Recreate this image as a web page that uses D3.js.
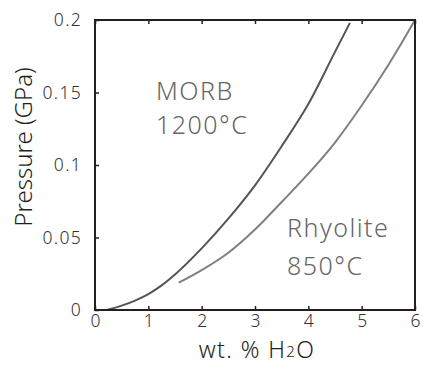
<!DOCTYPE html>
<html><head><meta charset="utf-8">
<script src="https://cdn.jsdelivr.net/npm/d3@7"></script>
<style>
html,body{margin:0;padding:0;background:#fff;}
svg{display:block;font-family:"Noto Sans",sans-serif;}
</style></head>
<body>
<svg id="c" width="423" height="365"></svg>
<script>
// Data
const morbX = [0.22, 0.5, 0.75, 1.0, 1.25, 1.5, 2.0, 2.5, 3.0, 3.5, 4.0, 4.5, 4.78];
const morbP = [0, 0.003, 0.0065, 0.011, 0.017, 0.0245, 0.0425, 0.063, 0.086, 0.113, 0.142, 0.178, 0.198];
const rhyX = [1.57, 2.0, 2.5, 3.0, 3.5, 4.0, 4.5, 5.0, 5.5, 6.0];
const rhyP = [0.0188, 0.0275, 0.0395, 0.0555, 0.0745, 0.094, 0.1155, 0.141, 0.169, 0.2];
const xTicks = [0, 1, 2, 3, 4, 5, 6];
const yTicks = [0, 0.05, 0.1, 0.15, 0.2];
const yTickLabels = ["0", "0.05", "0.1", "0.15", "0.2"];

const svg = d3.select("#c");
const L = 95, R = 415, T = 20, B = 310;
const x = d3.scaleLinear().domain([0, 6]).range([L, R]);
const y = d3.scaleLinear().domain([0, 0.2]).range([B, T]);
const frameCol = "#231f20";
const FONT = "'Noto Sans', 'Open Sans', sans-serif";

// lines
const line = d3.line().x(d => x(d[0])).y(d => y(d[1])).curve(d3.curveMonotoneX);
svg.append("path").datum(morbX.map((v, i) => [v, morbP[i]]))
  .attr("d", line).attr("fill", "none").attr("stroke", "#555555").attr("stroke-width", 2);
svg.append("path").datum(rhyX.map((v, i) => [v, rhyP[i]]))
  .attr("d", line).attr("fill", "none").attr("stroke", "#808080").attr("stroke-width", 2);

// axes
const xAxis = d3.axisBottom(x).tickValues(xTicks).tickSize(-4).tickPadding(6).tickFormat(d3.format("d"));
const gx = svg.append("g").attr("transform", `translate(0,${B})`).call(xAxis);
const yAxis = d3.axisLeft(y).tickValues(yTicks).tickSize(-4).tickPadding(13).tickFormat((d, i) => yTickLabels[i]);
const gy = svg.append("g").attr("transform", `translate(${L},0)`).call(yAxis);
const xTop = d3.axisTop(x).tickValues(xTicks).tickSize(-4).tickFormat("");
const gt = svg.append("g").attr("transform", `translate(0,${T})`).call(xTop);
[gx, gy, gt].forEach(g => {
  g.select(".domain").remove();
  g.selectAll(".tick line").attr("stroke", frameCol).attr("stroke-width", 1.5);
  g.selectAll(".tick text").attr("fill", "#333").attr("font-size", 17.5).attr("font-weight", 300)
    .attr("font-family", FONT);
});
gy.selectAll(".tick text").attr("letter-spacing", 1.3);
gx.selectAll(".tick text").attr("dy", "0.62em");

// frame
svg.append("rect").attr("x", L).attr("y", T).attr("width", R - L).attr("height", B - T)
  .attr("fill", "none").attr("stroke", frameCol).attr("stroke-width", 2);

// axis titles
const xt = svg.append("text").attr("x", 257).attr("y", 358).attr("text-anchor", "middle")
  .attr("font-size", 23).attr("font-weight", 300).attr("letter-spacing", 1.4).attr("fill", "#231f20").attr("font-family", FONT);
xt.append("tspan").text("wt. % H");
xt.append("tspan").text("2").attr("font-size", 15).attr("dy", -1);
xt.append("tspan").text("O").attr("dy", 1);

svg.append("text").attr("transform", "translate(32,147) rotate(-90)").attr("text-anchor", "middle")
  .attr("font-size", 24).attr("font-weight", 300).attr("fill", "#231f20").attr("font-family", FONT)
  .text("Pressure (GPa)");

// labels
const lab = (t, lx, ly) => svg.append("text").attr("x", lx).attr("y", ly).attr("font-size", 25)
  .attr("font-weight", 300).attr("letter-spacing", 1.5).attr("font-family", FONT).attr("fill", "#666666").text(t);
lab("MORB", 156, 100);
lab("1200°C", 156, 134);
lab("Rhyolite", 287, 237);
lab("850°C", 287, 275);
</script>
</body></html>
